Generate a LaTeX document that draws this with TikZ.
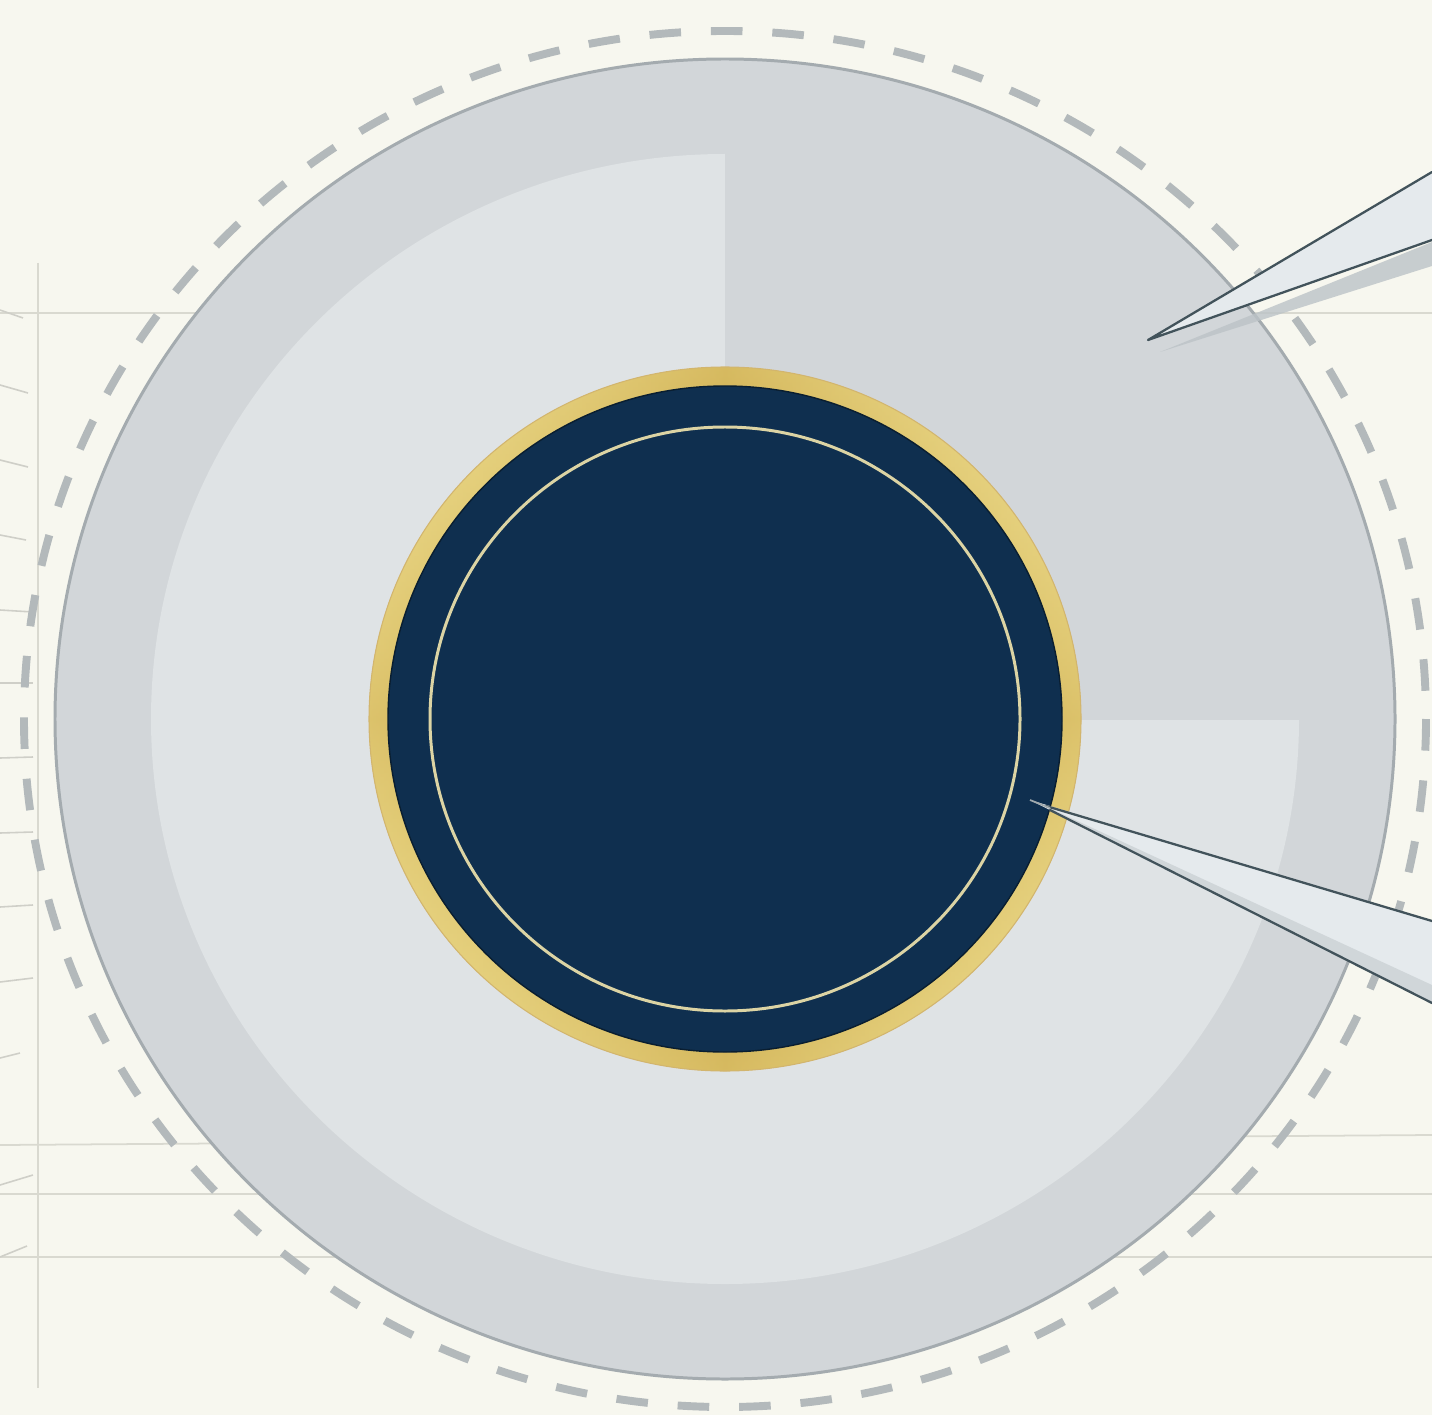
\documentclass[tikz,border=0pt]{standalone}
\definecolor{bg}{HTML}{F7F7EF}
\definecolor{gridc}{HTML}{D9D9D0}
\definecolor{tickc}{HTML}{CFCFC8}
\definecolor{outerfill}{HTML}{D2D6D9}
\definecolor{outerborder}{HTML}{A4ABAF}
\definecolor{lightfill}{HTML}{DFE3E5}
\definecolor{dashc}{HTML}{B3B9BB}
\definecolor{navy}{HTML}{0F2F4F}
\definecolor{navyedge}{HTML}{0A1E30}
\definecolor{goldL}{HTML}{F5E89C}
\definecolor{goldD}{HTML}{BE9530}
\definecolor{palegold}{HTML}{DCD4A4}
\definecolor{wedgefill}{HTML}{E5EAED}
\definecolor{wedgeline}{HTML}{42535B}
\definecolor{wedgeshadow}{HTML}{BCC3C7}
\tikzset{
  gridline/.style={draw=gridc, line width=1pt},
  tickline/.style={draw=tickc, line width=0.9pt},
  dashring/.style={draw=dashc, line width=4.5pt, dash pattern=on 18pt off 17pt},
  ringborder/.style={draw=outerborder, line width=1.7pt},
  wedgebody/.style={fill=wedgefill},
  wedgeedge/.style={draw=wedgeline, line width=1.3pt, line cap=round, line join=round},
  wedgeshade/.style={fill=wedgeshadow, fill opacity=0.8}
}
\begin{document}
\begin{tikzpicture}[x=0.02cm,y=-0.02cm]
\useasboundingbox (0,0) rectangle (1432,1415);
\fill[bg] (0,0) rectangle (1432,1415);
% background grid
\draw[gridline] (38,263) -- (38,1388);
\draw[gridline] (0,313) -- (1432,313);
\draw[gridline] (0,1145) -- (1432,1135);
\draw[gridline] (0,1194) -- (1432,1194);
\draw[gridline] (0,1257) -- (1432,1257);
% ticks on the left
\draw[tickline] (0,310) -- (23,318);
\draw[tickline] (0,385) -- (28,393);
\draw[tickline] (0,460) -- (28,467);
\draw[tickline] (0,535) -- (26,540);
\draw[tickline] (0,610) -- (33,612);
\draw[tickline] (0,683) -- (33,683);
\draw[tickline] (0,758) -- (33,757);
\draw[tickline] (0,833) -- (33,832);
\draw[tickline] (0,907) -- (33,905);
\draw[tickline] (0,982) -- (33,978);
\draw[tickline] (0,1058) -- (20,1053);
\draw[tickline] (0,1185) -- (33,1175);
\draw[tickline] (0,1257) -- (27,1246);
% dial
\coordinate (c) at (725,719);
\draw[dashring] (c) ellipse [x radius=701, y radius=688];
\fill[outerfill] (c) ellipse [x radius=670, y radius=660];
\fill[lightfill] (c) ellipse [x radius=574, y radius=565];
\begin{scope}
  \clip (c) rectangle (1432,0);
  \fill[outerfill] (c) ellipse [x radius=670, y radius=660];
\end{scope}
\draw[ringborder] (c) ellipse [x radius=670, y radius=660];
% gold ring
\shade[even odd rule, top color=goldL, bottom color=goldL, middle color=goldD]
  (c) ellipse [x radius=356, y radius=352] (c) ellipse [x radius=337, y radius=333];
\shade[even odd rule, left color=goldL, right color=goldL, middle color=goldD, fill opacity=0.55]
  (c) ellipse [x radius=356, y radius=352] (c) ellipse [x radius=337, y radius=333];
\draw[goldD!70!white, line width=0.6pt] (c) ellipse [x radius=356, y radius=352];
\fill[navy] (c) ellipse [x radius=337, y radius=333];
\draw[navyedge, line width=0.8pt] (c) ellipse [x radius=337, y radius=333];
\draw[palegold, line width=1.7pt] (c) ellipse [x radius=295, y radius=292];
% upper pointer
\coordinate (p1) at (1148,340);
\coordinate (p1a) at (1432,172);
\coordinate (p1b) at (1432,240);
\fill[wedgeshade] (1160,352) -- (1432,242) -- (1432,266) -- cycle;
\fill[wedgebody] (p1) -- (p1a) -- (p1b) -- cycle;
\draw[wedgeedge] (p1a) -- (p1) -- (p1b);
% lower pointer
\coordinate (p2) at (1030,800);
\coordinate (p2a) at (1432,921);
\coordinate (p2b) at (1432,1003);
\fill[wedgebody] (p2) -- (p2a) -- (p2b) -- cycle;
\fill[wedgeshade, fill opacity=0.5] (1045,806) -- (1432,985) -- (1432,1003) -- cycle;
\draw[wedgeedge] (p2a) -- (1046,806);
\draw[wedgeedge] (p2b) -- (1050,810);
\draw[wedgeline!50, line width=1pt] (p2) -- (1050,808);
\end{tikzpicture}
\end{document}
